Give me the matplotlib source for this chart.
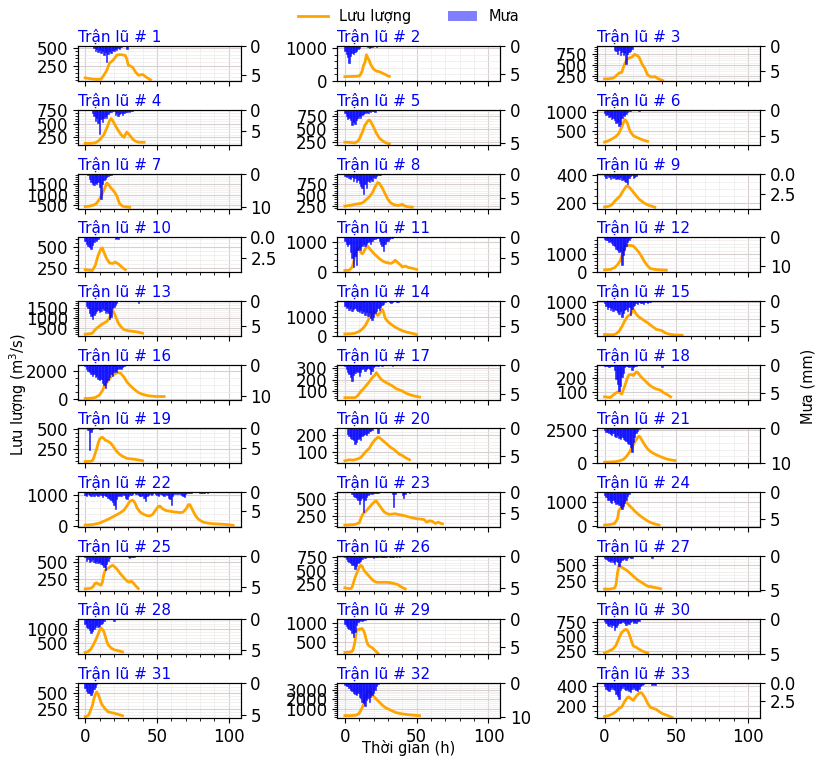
import matplotlib
matplotlib.use("Agg")
import matplotlib.pyplot as plt
from matplotlib.lines import Line2D
from matplotlib.patches import Patch

# ---------------- data: flow (hour, m3/s) ----------------
q01 = [(0,83),(4,70),(8,62),(11,65),(13,120),(15,185),(17,290),(18,300),(20,340),(22,395),(24,403),(26,400),(28,390),(29,340),(30,260),(32,240),(33,230),(35,165),(37,120),(39,125),(40,130),(42,100),(44,75),(45.5,56)]
q02 = [(0,130),(4,135),(8,140),(10,150),(11,200),(12,300),(13,480),(14,560),(15,800),(16,700),(17,620),(18,500),(19,430),(20,360),(22,300),(24,280),(26,240),(28,200),(30,150),(31,140)]
q03 = [(0,182),(3,185),(6,197),(8,250),(10,310),(12,333),(13,430),(14,523),(16,636),(18,660),(19,674),(21,735),(22,720),(24,674),(26,523),(28,420),(30,270),(32,230),(34,225),(35,235),(37,190),(40.5,144)]
q04 = [(0,140),(4,140),(7,148),(9,180),(11,230),(13,300),(15,420),(17,560),(18,600),(19,570),(21,470),(23,380),(25,300),(27,250),(29,350),(31,290),(33,220),(35,180),(37,160),(41,158)]
q05 = [(0,250),(4,245),(7,237),(9,270),(10,310),(12,430),(14,580),(16,660),(17,680),(18,650),(20,540),(22,420),(24,330),(26,285),(28,245),(31,218)]
q06 = [(0,200),(3,240),(5,280),(8,350),(10,430),(12,600),(13,700),(14,790),(15,760),(16,690),(17,560),(18,470),(20,370),(22,330),(24,300),(27,250),(30,220)]
q07 = [(0,450),(3,470),(6,520),(8,600),(10,800),(12,1050),(14,1350),(15,1520),(16,1480),(18,1300),(20,1150),(22,950),(23,750),(24,580),(26,470),(28,440),(31,420)]
q08 = [(0,250),(4,270),(7,290),(11,310),(13,340),(15,400),(17,460),(19,540),(21,680),(23,780),(24,760),(26,660),(28,530),(30,400),(32,320),(34,285),(37,265),(40,290),(42,250),(44,235),(47,228)]
q09 = [(0,175),(3,180),(5,190),(7,215),(9,235),(11,255),(13,290),(15,320),(16,325),(18,305),(20,280),(22,255),(24,230),(26,215),(28,200),(31,186),(35,174)]
q10 = [(0,230),(2,225),(5,220),(7,280),(9,400),(11,480),(12,490),(13,440),(15,360),(17,310),(19,305),(21,320),(23,300),(25,270),(27,240),(28,230)]
q11 = [(0,50),(3,55),(5,150),(6,300),(7,550),(8,700),(9,800),(10,750),(11,650),(12,600),(13,650),(14,750),(15,820),(16,850),(18,730),(20,620),(22,530),(24,440),(26,370),(28,320),(30,300),(32,280),(34,330),(35,390),(37,300),(39,220),(40,160),(42,195),(44,150),(47,120),(50,80)]
q12 = [(0,110),(4,130),(7,230),(9,400),(11,650),(12,900),(13,1150),(14,1350),(15,1500),(16,1500),(18,1510),(20,1480),(22,1300),(24,1100),(26,850),(28,550),(30,330),(32,180),(35,130),(38,110),(43,90)]
q13 = [(0,210),(3,230),(5,260),(7,440),(9,550),(11,660),(13,750),(15,820),(17,1000),(18,1250),(19,1380),(20,1250),(21,1100),(23,760),(25,560),(27,430),(30,380),(33,350),(36,320),(40,260)]
q14 = [(0,90),(4,100),(7,130),(10,230),(12,350),(14,520),(16,800),(18,1100),(20,1300),(21,1330),(22,1150),(23,1090),(24,1180),(25,1300),(26,1420),(27,1250),(28,950),(30,750),(32,620),(35,460),(38,340),(40,270),(43,190),(46,140),(50,60)]
q15 = [(0,60),(3,55),(6,50),(8,80),(10,150),(12,280),(14,450),(16,580),(18,640),(19,700),(20,790),(21,720),(22,650),(24,560),(26,510),(28,450),(30,400),(32,330),(34,270),(36,210),(38,190),(40,170),(42,110),(45,70),(48,50),(52,40),(54,35)]
q16 = [(0,50),(4,70),(7,120),(10,300),(12,600),(13,850),(15,1150),(17,1450),(19,1700),(21,1800),(23,1880),(25,1800),(27,1560),(29,1230),(31,1000),(33,800),(35,630),(37,480),(39,380),(42,290),(45,230),(49,195),(55,190)]
q17 = [(0,42),(4,42),(7,42),(9,60),(11,95),(13,120),(15,150),(17,180),(19,215),(21,240),(22,260),(23,240),(25,205),(27,185),(30,165),(33,145),(36,118),(38,110),(40,100),(43,78),(46,65),(49,55),(52,47)]
q18 = [(0,65),(4,60),(7,85),(9,100),(10,98),(12,85),(14,140),(16,200),(17,220),(19,222),(20,215),(22,240),(23,238),(25,210),(27,190),(29,170),(31,150),(33,135),(36,120),(39,112),(41,95),(43,85),(46,65)]
q19 = [(0,95),(3,98),(5,105),(6,140),(7,200),(8,250),(9,320),(10,370),(11,390),(12,395),(13,380),(14,360),(16,345),(18,320),(20,270),(22,220),(24,185),(26,160),(29,135),(32,128),(35,122),(38,112),(40,105)]
q20 = [(0,46),(3,52),(6,50),(9,58),(11,65),(13,85),(15,105),(17,120),(19,150),(21,172),(23,186),(24,184),(26,170),(28,155),(30,140),(32,125),(34,115),(36,100),(38,85),(40,78),(42,66),(45,52)]
q21 = [(0,50),(4,70),(8,100),(11,170),(13,260),(15,450),(17,750),(19,1150),(21,1550),(23,1900),(24,2000),(25,1900),(26,1700),(28,1350),(30,1050),(32,850),(34,720),(37,560),(40,420),(43,300),(46,230),(49,175)]
q22 = [(0,35),(5,50),(10,100),(15,200),(20,320),(24,420),(27,520),(29,650),(31,800),(33,840),(34,800),(35,720),(36,600),(38,470),(40,400),(43,340),(45,330),(47,380),(49,520),(51,640),(52,650),(54,560),(56,510),(58,490),(62,460),(66,440),(68,450),(70,540),(72,700),(73,690),(75,500),(77,330),(79,220),(82,130),(86,95),(90,75),(95,65),(100,45),(103,25)]
q23 = [(0,115),(4,120),(7,125),(10,150),(12,260),(13,290),(15,330),(17,380),(19,430),(21,470),(22,475),(23,440),(25,380),(27,320),(29,290),(31,275),(33,280),(35,285),(38,270),(41,258),(44,240),(47,225),(50,210),(53,205),(55,200),(57,160),(59,180),(61,170),(63,140),(65,160),(67,140),(68,135)]
q24 = [(0,45),(4,70),(7,110),(9,300),(10,650),(11,720),(12,740),(13,900),(14,1030),(15,1000),(16,920),(18,800),(20,680),(22,560),(24,460),(26,370),(28,290),(30,210),(32,150),(35,90),(38,45)]
q25 = [(0,100),(3,105),(5,120),(7,185),(8,190),(9,175),(11,155),(12,200),(13,320),(14,380),(16,410),(18,440),(19,455),(20,440),(22,400),(24,340),(26,290),(28,240),(30,205),(31,200),(32,215),(33,200),(35,150),(37,105)]
q26 = [(0,175),(2,165),(4,160),(5,185),(6,270),(7,360),(8,430),(9,500),(10,560),(11,600),(12,580),(13,520),(14,480),(16,420),(18,360),(20,305),(22,280),(25,278),(28,280),(31,275),(34,258),(37,235),(39,195),(42,155)]
q27 = [(0,130),(4,130),(7,145),(8,200),(9,380),(10,500),(11,480),(12,465),(14,440),(16,410),(18,370),(20,330),(22,290),(24,255),(26,230),(28,200),(30,175),(31,165),(32,175),(33,160),(36,150),(39,135)]
q28 = [(0,180),(2,210),(4,300),(6,480),(8,700),(10,950),(11,1050),(12,1000),(13,920),(14,750),(15,580),(16,450),(18,340),(20,280),(23,240),(26,200)]
q29 = [(0,250),(3,260),(5,275),(6,350),(7,520),(8,780),(9,830),(10,820),(11,840),(12,850),(13,800),(14,700),(15,550),(16,450),(17,410),(19,370),(21,300),(23,230)]
q30 = [(0,220),(3,250),(6,290),(8,350),(10,470),(12,570),(14,610),(15,620),(16,600),(17,550),(18,480),(19,400),(20,340),(22,315),(24,285),(26,255),(28,235),(30,220)]
q31 = [(0,125),(2,140),(3,180),(4,240),(5,300),(6,400),(7,470),(8,515),(9,480),(10,420),(11,350),(12,305),(14,245),(16,200),(18,190),(20,180),(23,160),(26,140)]
q32 = [(0,300),(4,300),(8,350),(10,550),(12,1100),(13,1500),(14,2000),(15,2500),(16,2800),(17,2850),(18,2700),(19,2500),(20,2300),(22,2000),(24,1700),(26,1400),(28,1150),(30,1000),(33,780),(36,600),(40,480),(44,400),(48,340),(52,300)]
q33 = [(0,100),(3,110),(6,130),(8,150),(10,180),(12,195),(14,250),(16,290),(17,295),(18,280),(20,260),(22,300),(24,330),(25,337),(26,330),(28,290),(30,230),(32,190),(34,180),(36,170),(38,150),(40,130),(43,115),(47,92)]

# ---------------- data: hourly rain (mm), from hour 0 ----------------
r01 = [0,0,0,0,0,0,0.3,0.8,0.5,1.0,0.6,1.2,0.9,1.5,1.0,2.8,1.3,0.8,1.1,0.6,0.9,0.4,0.7,0.3,0.5,0.2,0,0,0,0.4]
r02 = [0.8,1.5,2.0,3.1,1.8,1.2,1.5,1.0,0.8,0.5,0.3,0,0,0,0,0,0.2,0.3,0.1,0.2,0,0,0.2]
r03 = [0,0,0,0,0,0,0,0.8,1.0,1.5,0.7,1.8,1.2,1.9,1.4,3.6,1.6,1.2,1.0,0.5]
r04 = [0,0,0,0,0,0.8,1.5,2.5,1.8,3.0,5.6,2.2,2.8,2.0,1.5,1.8,1.0,0.6,0.4,0.3,0.2,1.2,0.8,1.5,1.0,0.7,1.2,0.8,0.6,0.5,0.3,0.4,0.2,0.2]
r05 = [0.5,1.0,1.4,1.2,1.6,2.3,1.8,2.1,1.5,1.2,1.0,1.3,0.8,0.6,0.4,0.3,0.5,0.2,0.3,0.2,0.1,0.3]
r06 = [0.6,1.0,0.8,1.4,1.2,1.8,1.5,2.0,2.4,2.2,3.1,2.6,1.5,1.0,1.2,0.8,0.4,0.3,0.2,0.1,0,0,0,0,0.3]
r07 = [0,0,0.5,1.5,2.5,3.0,3.5,2.8,3.2,2.5,4.0,7.7,3.0,2.0,1.5,1.0,0.6,0.4,0.3,0.2,0.2,0.1]
r08 = [0.5,0.8,0.6,1.0,1.2,0.8,1.5,1.0,1.8,1.4,2.0,2.5,3.0,4.3,2.2,3.0,1.5,1.8,1.2,1.5,0.8,1.0,0.6,0.4,0.3,0.2]
r09 = [0.3,0.5,0.2,0.4,0.6,0.3,0.5,0.4,0.7,0.5,0.6,0.4,0.8,0.6,0.9,1.0,1.2,0.5,0.3,0.2,0.5,0.4,0.3]
r10 = [0.5,0.8,1.0,1.2,1.4,0.9,0.6,0.3,0.4,0.2,0,0,0,0,0,0,0,0,0,0,0,0.2,0.1,0.2]
r11 = [1.0,1.5,2.0,1.5,3.5,5.0,7.0,4.5,6.5,3.0,2.5,3.0,2.0,1.5,2.0,1.5,1.2,1.0,1.5,0.8,0.5,0.4,0.3,0.2,1.0,1.5,2.0,3.2,1.5,1.0,0.8,0.5,0.3,0.2]
r12 = [0.5,1.0,0.8,1.5,1.2,2.0,2.5,3.0,4.0,4.5,5.0,4.6,9.4,6.0,4.5,3.0,1.5,0.8,0.4]
r13 = [0,1.0,1.5,2.5,3.0,3.6,2.8,2.5,2.0,1.8,2.2,2.0,1.5,1.8,2.4,2.0,2.5,3.6,3.2,1.5,1.2,0.8,0.5,0,0,0,0,0,0,0,0,0,0,0,0,0,0,0.4]
r14 = [1.0,1.5,1.2,1.8,1.4,2.0,1.6,1.5,1.8,2.0,2.2,1.8,2.5,2.0,2.8,2.2,3.0,2.5,3.5,3.8,3.2,2.4,2.0,1.5,1.8,1.2,0.8,0.6,0.3,0,0,0.3,0.4,0.2,0,0,0.3,0.2]
r15 = [0.5,1.0,1.5,1.2,1.8,1.4,2.0,1.6,1.8,2.2,2.5,2.0,3.1,2.4,1.8,1.5,2.0,1.2,2.7,1.5,1.0,0.8,0.5,0.6,0.3,0.5,0.4,0.6,0.3,0.2,0.4,0.3,0.2]
r16 = [0.5,1.5,2.0,2.5,3.0,3.5,3.0,4.0,3.5,4.5,5.0,4.5,6.0,6.5,7.3,5.5,5.0,4.0,3.0,3.5,2.5,2.0,2.5,1.5,1.0,1.5,0.8,0.5]
r17 = [0.3,0.8,1.2,1.5,2.0,2.7,1.8,1.4,1.0,1.2,1.9,1.3,0.8,0.6,1.0,0.7,0.5,0.8,1.5,1.0,0.4,0.2,0,0.3,0,0,0.2,0,0,0,0,0,0,0.2]
r18 = [0.2,0.3,0.2,0.4,0.3,0.2,0.3,1.0,2.5,3.5,4.7,3.8,2.2,1.5,0.5,0.3,0.2,0.4,0.3,1.0,0.5,0.2,0.3,0,0,0,0,0,0,0,0,0,0,0,0,0,0,0,0,0,0.5]
r19 = [0,0,0.5,5.6,1.0,0.3,0,0,0,0,0.1,0.2,0.1]
r20 = [0,0,1.0,1.5,1.8,2.0,2.2,2.8,2.5,2.0,1.8,2.2,1.5,1.2,1.0,1.3,0.8,0.6,0.5,0.3,0,0,0,0.9]
r21 = [0.5,1.0,1.2,1.5,1.8,2.0,1.5,2.2,2.5,2.0,2.8,3.0,2.5,3.2,3.5,3.8,4.2,4.5,5.5,6.9,4.0,2.5,1.5,0.8,0.3]
r22 = [0.8,1.0,0.6,0.9,1.2,0.7,1.0,0.5,0.8,1.1,0.6,0.9,1.3,0.8,1.0,1.2,1.5,1.8,2.2,2.8,3.5,4.5,2.0,1.2,0.8,1.0,0.6,0.9,1.5,1.8,1.0,0.6,0.8,0.5,0.4,0.7,0.5,0.8,1.0,1.2,0.9,1.5,2.3,1.2,0.8,0.6,0.9,0.5,0.3,0.6,0.8,1.0,0.7,0.5,0.8,1.0,0.6,0.9,1.5,2.0,3.6,1.0,0.6,0.4,0.5,0.3,0.5,0.8,1.0,1.4,0.6,0.3,0.2,0.3,0.2,0,0,0,0,0,0.3,0.2,0.3,0.2,0.1,0.2]
r23 = [0,0,0,0,0,0.5,1.0,1.2,1.5,2.0,2.8,1.8,1.5,4.8,2.0,1.2,0.8,0.5,0.3,0.5,0.3,0.2,0.3,0.2,0.1,0,0,0,0,0,0,0,0,0.5,3.6,0.5,0,0,0,0,0.8,1.4,0.6,0,0,0.3]
r24 = [0.5,1.0,1.5,1.6,1.8,2.0,1.5,1.8,2.2,2.0,2.5,2.8,3.2,2.6,2.0,1.5,0.8,0.4]
r25 = [0.3,0.8,0.5,1.0,0.8,0.6,1.0,1.2,0.9,1.1,1.0,1.3,1.5,1.8,2.3,1.4,0.8,0.4,0,0,0,0,0,0,0,0,0,0,0,0,0.3,0.4,0.2,0.3,0.3]
r26 = [0.2,0.5,0.8,1.0,1.2,1.4,1.5,2.1,1.6,1.2,1.0,0.8,0.5,0.3,0.4,0.2,0.3,0.2,0.3,0.2,0.4,0.2,0.3,0.2,0.1,0.3,0.2,0.2,0.3,0.2,0.1,0.2,0.3,0.2,0.2,0.1,0.2,0.1,0.2,0.1]
r27 = [0.3,0.5,0.7,0.8,1.0,0.6,0.9,1.2,0.8,1.0,1.6,1.0,0.7,0.5,0.4,0.6,0.3,0.2,0.3,0.4,0,0,0,0,0,0,0,0,0,0,0,0,0,0.3]
r28 = [0.8,1.2,1.5,1.8,2.3,2.0,1.6,1.2,1.0,1.3,1.1,0.8,0.6,0.3,0,0,0,0,0,0,0.3]
r29 = [0.8,1.2,1.5,1.8,2.0,2.5,3.2,2.2,1.0,0.5,0.3,0.2,0.3,0.2,0.1]
r30 = [0.3,0.6,0.8,1.0,0.7,1.2,0.9,1.5,1.1,0.8,0.6,0.5,0.4,0.3,0.6,0.8,0.5,0.7,0.4,0.3,0.6,0.4,0.5,0.2,0.3]
r31 = [0.8,1.2,1.5,1.6,1.8,1.4,1.0,0.6,0.2]
r32 = [0.5,0.8,1.0,1.5,2.0,2.5,3.0,3.2,3.5,3.0,4.0,4.5,5.5,6.0,6.7,5.0,4.5,5.5,4.0,3.5,3.0,2.0,0.8,0.3]
r33 = [0.5,0.8,1.0,1.2,0.8,0.6,0.9,1.0,1.5,1.8,2.2,1.0,0.7,0.5,0.8,1.0,0.9,1.2,1.3,0.8,0.6,0.9,1.0,1.2,0.8,0.5,0.3,0.2,0,0,0,0,0,0.3,0.2,0.3]

flows = [q01,q02,q03,q04,q05,q06,q07,q08,q09,q10,q11,q12,q13,q14,q15,q16,q17,q18,q19,q20,q21,q22,q23,q24,q25,q26,q27,q28,q29,q30,q31,q32,q33]
rains = [r01,r02,r03,r04,r05,r06,r07,r08,r09,r10,r11,r12,r13,r14,r15,r16,r17,r18,r19,r20,r21,r22,r23,r24,r25,r26,r27,r28,r29,r30,r31,r32,r33]

# axis limits
flow_limits = [(37,518),(-10,1060),(129,917),(111,760),(199,872),(127,1045),(360,1960),(196,980),(164,410),(200,617),
               (-10,1150),(-30,1980),(130,1820),(-10,1870),(20,1030),(-20,2440),(26,330),(46,292),(75,508),(32,240),
               (-20,2600),(-22,1109),(90,610),(-28,1400),(75,600),(125,781),(107,650),(119,1357),(208,1083),(199,793),
               (106,660),(70,3700),(87,433)]
rain_limits = [6.07,6.4,7.2,8.2,5.3,6.6,10.5,7.3,4.2,4.2,8.3,12,7.1,7.1,6.85,11.1,5.85,6.25,8.8,6.4,
               10,9.3,8.2,6.5,5.5,5.4,5.1,5.7,6.2,5.05,5.4,10.2,4.9]

title_fmt = "Trận lũ # {}"

fig, axes = plt.subplots(11, 3, sharex=True, figsize=(8.18, 7.58), dpi=100)
fig.subplots_adjust(left=0.095, right=0.929, top=0.939, bottom=0.053, wspace=0.595, hspace=0.82)

for i, ax in enumerate(axes.flat):
    t, q = zip(*flows[i])
    ax.plot(t, q, color='orange', lw=2)
    ax.set_ylim(*flow_limits[i])
    ax.minorticks_on()
    ax.grid(which='major', color='#d8d0d0', lw=0.8)
    ax.grid(which='minor', color='#eeeaea', lw=0.5)
    ax.tick_params(labelsize=12)
    ax.set_title(title_fmt.format(i + 1), loc='left', color='blue', fontsize=11, pad=3)
    ax2 = ax.twinx()
    hours = list(range(len(rains[i])))
    ax2.bar(hours, rains[i], width=1.0, color='blue', alpha=0.85, edgecolor='blue', linewidth=0.4)
    ax2.set_ylim(rain_limits[i], 0)
    ax2.tick_params(labelsize=12)
    ax.set_xlim(-5.2, 108.2)

handles = [Line2D([], [], color='orange', lw=2, label='Lưu lượng'),
           Patch(facecolor='blue', alpha=0.5, label='Mưa')]
fig.legend(handles=handles, loc='upper center', bbox_to_anchor=(0.5, 1.005), ncol=2,
           frameon=False, fontsize=10.5, columnspacing=2.5)
fig.text(0.022, 0.48, 'Lưu lượng (m$^3$/s)', rotation=90, va='center', ha='center', fontsize=10.5)
fig.text(0.988, 0.49, 'Mưa (mm)', rotation=90, va='center', ha='center', fontsize=10.5)
fig.text(0.5, 0.002, 'Thời gian (h)', ha='center', va='bottom', fontsize=10.5)

fig.savefig('out.png', dpi=100)
